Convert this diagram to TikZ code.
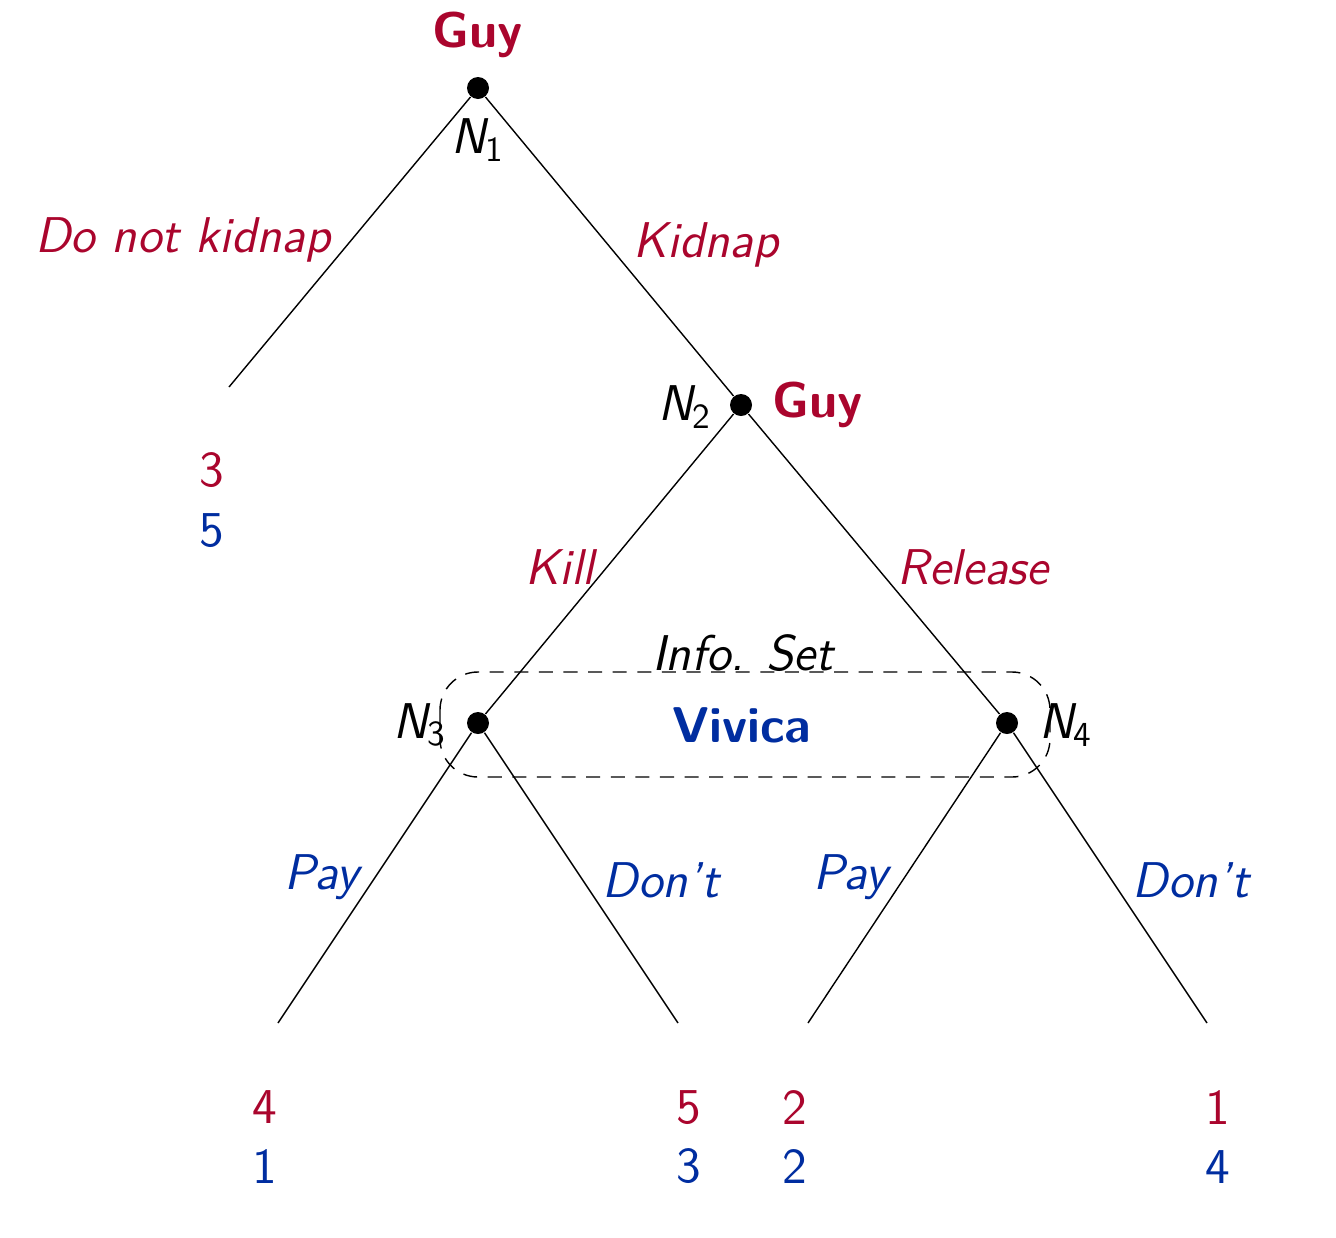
\documentclass[tikz,border=0pt]{standalone}
\usepackage{amsmath}
\usepackage{amssymb}
\usepackage{tikz}
\renewcommand{\familydefault}{\sfdefault}
\definecolor{guyred}{RGB}{170,5,45}
\definecolor{vivblue}{RGB}{0,45,160}
\newcommand{\nn}[1]{$\textit{N}_{\text{#1}}$}

\begin{document}
\begin{tikzpicture}[font=\fontsize{14.3}{17}\selectfont,
    dot/.style={circle,fill=black,inner sep=0pt,minimum size=0.22cm},
    guy/.style={guyred,font=\fontsize{14.3}{17}\selectfont\bfseries},
    viv/.style={vivblue,font=\fontsize{14.3}{17}\selectfont\bfseries},
    gact/.style={guyred,font=\fontsize{14.3}{17}\selectfont\itshape},
    vact/.style={vivblue,font=\fontsize{14.3}{17}\selectfont\itshape},
    pay/.style={align=center}]
      \useasboundingbox (0,0) rectangle (13.36,-12.38);
      \node[dot] (n1) at (4.78,-0.88) {};
      \node[dot] (n2) at (7.41,-4.05) {};
      \node[dot] (n3) at (4.78,-7.23) {};
      \node[dot] (n4) at (10.07,-7.23) {};
      \coordinate (e0) at (2.29,-3.87);
      \coordinate (e1) at (2.78,-10.23);
      \coordinate (e2) at (6.78,-10.23);
      \coordinate (e3) at (8.08,-10.23);
      \coordinate (e4) at (12.07,-10.23);
      \draw (n1) -- (e0);
      \draw (n1) -- (n2);
      \draw (n2) -- (n3);
      \draw (n2) -- (n4);
      \draw (n3) -- (e1);
      \draw (n3) -- (e2);
      \draw (n4) -- (e3);
      \draw (n4) -- (e4);
      % information set
      \draw[dash pattern=on 4pt off 3pt,rounded corners=0.38cm] (4.4,-6.72) rectangle (10.5,-7.77);
      \node[guy] (g1) at (4.78,-0.35) {Guy};
      \node[guy] (g2) at (8.18,-4.05) {Guy};
      \node[viv] (v1) at (7.42,-7.25) {Vivica};
      \node (is) at (7.43,-6.53) {\itshape Info. Set};
      \node (l1) at (4.78,-1.40) {\nn{1}};
      \node (l2) at (6.85,-4.07) {\nn{2}};
      \node (l3) at (4.20,-7.25) {\nn{3}};
      \node (l4) at (10.66,-7.25) {\nn{4}};
      \node[gact] (a0) at (1.83,-2.40) {Do not kidnap};
      \node[gact] (a1) at (7.06,-2.45) {Kidnap};
      \node[gact] (a2) at (5.60,-5.67) {Kill};
      \node[gact] (a3) at (9.73,-5.67) {Release};
      \node[vact] (b1) at (3.22,-8.77) {Pay};
      \node[vact] (b2) at (6.61,-8.80) {Don't};
      \node[vact] (b3) at (8.51,-8.77) {Pay};
      \node[vact] (b4) at (11.91,-8.80) {Don't};
      \node[pay] (p0) at (2.12,-5.00) {\textcolor{guyred}{3}\\\textcolor{vivblue}{5}};
      \node[pay] (p1) at (2.65,-11.37) {\textcolor{guyred}{4}\\\textcolor{vivblue}{1}};
      \node[pay] (p2) at (6.89,-11.37) {\textcolor{guyred}{5}\\\textcolor{vivblue}{3}};
      \node[pay] (p3) at (7.95,-11.37) {\textcolor{guyred}{2}\\\textcolor{vivblue}{2}};
      \node[pay] (p4) at (12.18,-11.37) {\textcolor{guyred}{1}\\\textcolor{vivblue}{4}};
\end{tikzpicture}
\end{document}
